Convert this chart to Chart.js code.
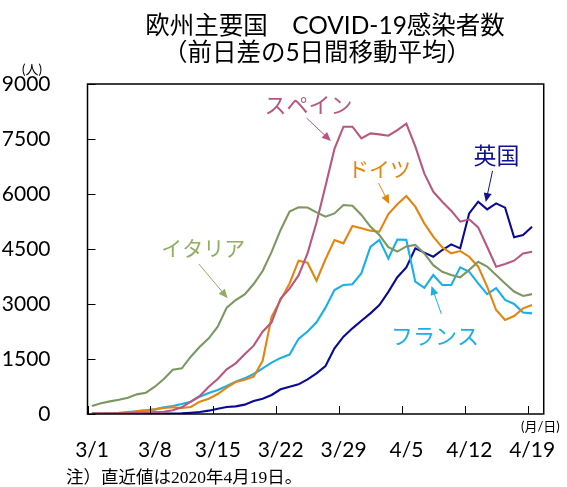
<!DOCTYPE html>
<html lang="ja">
<head>
<meta charset="utf-8">
<script src="https://cdn.jsdelivr.net/npm/chart.js"></script>
<style>
  html, body { margin: 0; padding: 0; background: #fff; }
  canvas { display: block; }
</style>
</head>
<body>
<canvas id="grafico" width="567" height="487"></canvas>
<script>
// Giorni dal 3/1 al 4/19 (indice 0..49), etichette sull'asse x
const tickDays = [0, 7, 14, 21, 28, 35, 42, 49];
const tickLabels = ["3/1", "3/8", "3/15", "3/22", "3/29", "4/5", "4/12", "4/19"];

// Valori (5 giorni media mobile, persone)
const italia = [218, 291, 345, 391, 445, 536, 582, 745, 954, 1209, 1245, 1563, 1836, 2063, 2381, 2900, 3109, 3263, 3545, 3900,
  4420, 5020, 5520, 5640, 5630, 5500, 5380, 5470, 5700, 5680, 5430, 5110, 4880, 4550, 4430, 4570, 4610, 4380, 4060, 3880,
  3790, 3730, 3930, 4150, 4020, 3790, 3560, 3340, 3220, 3270];
const spagna = [10, 10, 15, 20, 25, 30, 40, 50, 60, 100, 182, 336, 491, 745, 954, 1218, 1382, 1627, 1864, 2245,
  2500, 3150, 3420, 3780, 4380, 5220, 6220, 7230, 7836, 7836, 7518, 7654, 7627, 7590, 7745, 7920, 7300, 6563, 6063, 5790,
  5545, 5245, 5309, 5090, 4563, 4018, 4090, 4181, 4381, 4427];
const germania = [10, 10, 12, 15, 20, 82, 100, 127, 164, 182, 164, 191, 336, 418, 545, 718, 873, 936, 1018, 1450,
  2650, 3110, 3560, 4180, 4127, 3636, 4220, 4745, 4654, 5127, 5063, 5000, 4972, 5454, 5720, 5945, 5654, 5200, 4836, 4545,
  4381, 4445, 4290, 4018, 3472, 2836, 2563, 2672, 2881, 2972];
const francia = [10, 15, 20, 30, 55, 73, 100, 127, 182, 218, 273, 336, 473, 573, 654, 764, 882, 973, 1091, 1245,
  1400, 1530, 1620, 2050, 2250, 2500, 2900, 3380, 3520, 3540, 3840, 4560, 4750, 4240, 4760, 4750, 3610, 3440, 3790, 3520,
  3520, 4000, 3880, 3560, 3270, 3430, 3110, 3000, 2770, 2745];
const regnoUnito = [5, 5, 5, 5, 5, 8, 10, 10, 12, 15, 18, 36, 55, 91, 145, 191, 209, 255, 355, 418,
  518, 673, 745, 809, 945, 1109, 1309, 1791, 2109, 2336, 2545, 2745, 2970, 3330, 3730, 4000, 4518, 4400, 4290, 4472,
  4627, 4518, 5472, 5790, 5581, 5745, 5627, 4818, 4881, 5109];

// Etichette delle serie: testo, colore, posizione (giorno, valore) e freccia
const etichette = [
  { testo: "スペイン", colore: "#B8577F", x: 24.6, y: 8430, size: 22, freccia: [24.4, 8070, 27.1, 7445] },
  { testo: "ドイツ", colore: "#E5850F", x: 32.5, y: 6680, size: 21, freccia: [32.4, 6300, 33.6, 5730] },
  { testo: "英国", colore: "#101092", x: 45.55, y: 7060, size: 23, freccia: [45.1, 6630, 44.35, 5780] },
  { testo: "イタリア", colore: "#8FAE62", x: 12.9, y: 4530, size: 21, freccia: [12.4, 4090, 15.6, 3160] },
  { testo: "フランス", colore: "#1AAFE6", x: 38.7, y: 2130, size: 22, freccia: [39.4, 2730, 38.3, 3490] },
];

const fontBase = "Lato, 'Noto Sans CJK JP', sans-serif";

// Trasforma un array di valori in punti {x, y} al centro del giorno
function punti(valori) {
  return valori.map((v, i) => ({ x: i + 0.5, y: v }));
}

function freccia(ctx, x1, y1, x2, y2, colore) {
  const ang = Math.atan2(y2 - y1, x2 - x1);
  ctx.strokeStyle = colore;
  ctx.fillStyle = colore;
  ctx.lineWidth = 1;
  ctx.beginPath();
  ctx.moveTo(x1, y1);
  ctx.lineTo(x2 - 6 * Math.cos(ang), y2 - 6 * Math.sin(ang));
  ctx.stroke();
  ctx.beginPath();
  ctx.moveTo(x2, y2);
  ctx.lineTo(x2 - 9 * Math.cos(ang) + 4 * Math.sin(ang), y2 - 9 * Math.sin(ang) - 4 * Math.cos(ang));
  ctx.lineTo(x2 - 9 * Math.cos(ang) - 4 * Math.sin(ang), y2 - 9 * Math.sin(ang) + 4 * Math.cos(ang));
  ctx.closePath();
  ctx.fill();
}

// Plugin per titolo, cornice, tacche interne, note ed etichette
const decorazioni = {
  id: "decorazioni",
  afterDatasetsDraw(chart) {
    const { ctx, chartArea: a, scales } = chart;
    const sx = scales.x, sy = scales.y;
    ctx.save();

    // cornice
    ctx.strokeStyle = "#000";
    ctx.lineWidth = 1.5;
    ctx.strokeRect(a.left, a.top, a.right - a.left, a.bottom - a.top);

    // tacche interne
    ctx.lineWidth = 1;
    ctx.beginPath();
    tickDays.forEach((d) => {
      const px = Math.round(sx.getPixelForValue(d)) + 0.5;
      ctx.moveTo(px, a.bottom);
      ctx.lineTo(px, a.bottom - 8);
    });
    sy.ticks.forEach((t) => {
      const py = Math.round(sy.getPixelForValue(t.value)) + 0.5;
      ctx.moveTo(a.left, py);
      ctx.lineTo(a.left + 8, py);
    });
    ctx.stroke();

    // etichette delle serie
    ctx.textAlign = "center";
    ctx.textBaseline = "middle";
    etichette.forEach((e) => {
      ctx.font = `${e.size}px 'Noto Sans CJK JP', sans-serif`;
      ctx.fillStyle = e.colore;
      ctx.fillText(e.testo, sx.getPixelForValue(e.x), sy.getPixelForValue(e.y));
      const f = e.freccia;
      freccia(ctx, sx.getPixelForValue(f[0]), sy.getPixelForValue(f[1]),
        sx.getPixelForValue(f[2]), sy.getPixelForValue(f[3]), e.colore);
    });

    // titolo
    ctx.fillStyle = "#000";
    ctx.font = `24.5px ${fontBase}`;
    ctx.fillText("欧州主要国　COVID-19感染者数", 325, 26);
    ctx.fillText("（前日差の5日間移動平均）", 317, 53);

    // unità
    ctx.font = `13px ${fontBase}`;
    ctx.fillText("(人)", 32, 70);
    ctx.textAlign = "left";
    ctx.fillText("(月/日)", 521, 427);

    // nota
    ctx.font = "17.5px 'Liberation Serif', 'Noto Sans CJK JP', serif";
    ctx.fillText("注）直近値は2020年4月19日。", 66, 478);
    ctx.restore();
  },
};

const ctx = document.getElementById("grafico").getContext("2d");

new Chart(ctx, {
  type: "line",
  data: {
    datasets: [
      { label: "イタリア", data: punti(italia), borderColor: "#7C9862" },
      { label: "スペイン", data: punti(spagna), borderColor: "#B8577F" },
      { label: "ドイツ", data: punti(germania), borderColor: "#E5850F" },
      { label: "フランス", data: punti(francia), borderColor: "#1AAFE6" },
      { label: "英国", data: punti(regnoUnito), borderColor: "#0A0A96" },
    ],
  },
  options: {
    responsive: false,
    animation: false,
    layout: { padding: { top: 84, right: 12, left: 0, bottom: 0 } },
    plugins: {
      legend: { display: false },
      tooltip: { enabled: false },
    },
    elements: {
      point: { radius: 0 },
      line: { borderWidth: 2.1, tension: 0 },
    },
    scales: {
      x: {
        type: "linear",
        min: 0,
        max: 50.8,
        grid: { display: false },
        border: { display: false },
        afterBuildTicks: (s) => {
          s.ticks = tickDays.map((v) => ({ value: v }));
        },
        afterFit: (s) => {
          s.height = 73;
        },
        ticks: {
          autoSkip: false,
          maxRotation: 0,
          labelOffset: 4.6,
          padding: 16,
          color: "#000",
          font: { size: 21, family: fontBase },
          callback: (v) => tickLabels[tickDays.indexOf(v)],
        },
      },
      y: {
        min: 0,
        max: 9000,
        grid: { display: false },
        border: { display: false },
        afterFit: (s) => {
          s.width = 87.5;
        },
        ticks: {
          stepSize: 1500,
          padding: 29,
          color: "#000",
          font: { size: 21, family: fontBase },
          callback: (v) => String(v),
        },
      },
    },
  },
  plugins: [decorazioni],
});
</script>
</body>
</html>
